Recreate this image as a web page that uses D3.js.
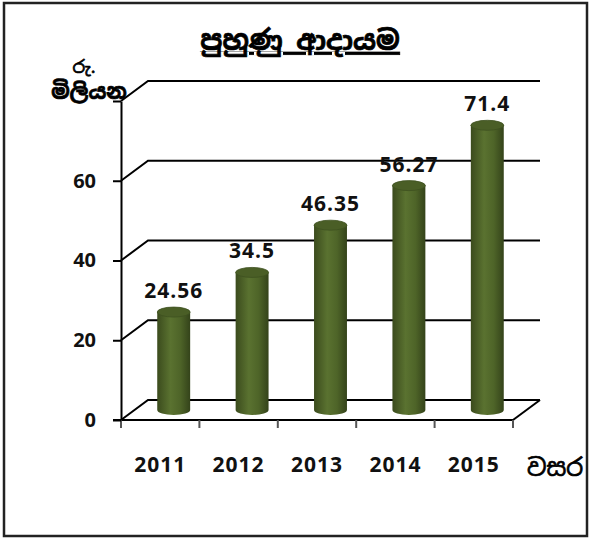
<!DOCTYPE html>
<html>
<head>
<meta charset="utf-8">
<script src="https://cdn.jsdelivr.net/npm/d3@7"></script>
<style>
  body { margin: 0; background: #fff; }
  svg text { font-family: "Open Sans", "Noto Sans", sans-serif; }
  svg text.si { font-family: "Noto Sans Sinhala", "Iskoola Pota", "Noto Sans", sans-serif; stroke: #000; stroke-width: 0.7px; }
</style>
</head>
<body>
<script>
var years = ["2011", "2012", "2013", "2014", "2015"];
var income = [24.56, 34.5, 46.35, 56.27, 71.4];
var labels = ["24.56", "34.5", "46.35", "56.27", "71.4"];
var yTicks = [0, 20, 40, 60, 80];
// the 80 label is hidden behind the axis title in the original
var yTickLabels = ["0", "20", "40", "60", ""];

var W = 595, H = 539;
// 3d depth offset of the back wall
var dx = 27, dy = -20;

var svg = d3.select("body").append("svg")
    .attr("width", W)
    .attr("height", H);

// outer frame
svg.append("rect")
    .attr("x", 4).attr("y", 3)
    .attr("width", 583).attr("height", 533)
    .attr("fill", "#fff")
    .attr("stroke", "#222")
    .attr("stroke-width", 2.5);

var x = d3.scaleBand().domain(years).range([121, 513]);
var y = d3.scaleLinear().domain([0, 80]).range([420, 101]);

var defs = svg.append("defs");
var grad = defs.append("linearGradient").attr("id", "cyl")
    .attr("x1", "0%").attr("x2", "100%").attr("y1", "0%").attr("y2", "0%");
grad.append("stop").attr("offset", "0%").attr("stop-color", "#3b4b1d");
grad.append("stop").attr("offset", "40%").attr("stop-color", "#5a7230");
grad.append("stop").attr("offset", "70%").attr("stop-color", "#4e6428");
grad.append("stop").attr("offset", "100%").attr("stop-color", "#34431a");

// walls: side diagonals + back gridlines
var grid = svg.append("g").attr("stroke", "#000").attr("stroke-width", 2).attr("fill", "none");
yTicks.forEach(function(t) {
  grid.append("path")
      .attr("d", "M" + x.range()[0] + "," + y(t) + "L" + (x.range()[0] + dx) + "," + (y(t) + dy)
        + "L" + (x.range()[1] + dx) + "," + (y(t) + dy));
});
// floor right edge
grid.append("path")
    .attr("d", "M" + x.range()[1] + "," + y(0) + "L" + (x.range()[1] + dx) + "," + (y(0) + dy));

// axes
var xAxis = svg.append("g")
    .attr("transform", "translate(0," + y(0) + ")")
    .call(d3.axisBottom(x).tickSize(0).tickFormat(""));
xAxis.select(".domain").attr("stroke", "#000").attr("stroke-width", 2).attr("d", "M113,0H513");
xAxis.selectAll(".xt").data(d3.range(years.length + 1)).enter().append("line")
    .attr("x1", function(i) { return x.range()[0] + i * x.step(); })
    .attr("x2", function(i) { return x.range()[0] + i * x.step(); })
    .attr("y1", 0).attr("y2", 8)
    .attr("stroke", "#555").attr("stroke-width", 2);

var yAxis = svg.append("g")
    .attr("transform", "translate(121,0)")
    .call(d3.axisLeft(y).tickValues(yTicks).tickSize(8).tickSizeOuter(0)
      .tickFormat(function(d, i) { return yTickLabels[i]; }));
yAxis.select(".domain").attr("stroke", "#000").attr("stroke-width", 2);
yAxis.selectAll("line").attr("stroke", "#000").attr("stroke-width", 2);
yAxis.selectAll("text")
    .attr("x", -25)
    .attr("fill", "#111")
    .style("font-size", "20px").style("font-weight", "bold");

// cylinders, centred half-way into the depth
var bw = x.bandwidth() * 0.42, ry = 5;
var bars = svg.selectAll(".bar").data(income).enter().append("g").attr("class", "bar");
function cx(i) { return x(years[i]) + x.bandwidth() / 2 + dx / 2; }
bars.append("path")
    .attr("fill", "url(#cyl)")
    .attr("d", function(d, i) {
      var l = cx(i) - bw / 2, r = cx(i) + bw / 2;
      var top = y(d) + dy / 2, bot = y(0) + dy / 2;
      return "M" + l + "," + top + "L" + l + "," + bot
        + "A" + bw / 2 + "," + ry + " 0 0 0 " + r + "," + bot
        + "L" + r + "," + top + "Z";
    });
bars.append("ellipse")
    .attr("cx", function(d, i) { return cx(i); })
    .attr("cy", function(d) { return y(d) + dy / 2; })
    .attr("rx", bw / 2).attr("ry", ry)
    .attr("fill", "#4a5e26")
    .attr("stroke", "#3e5020").attr("stroke-width", 0.8);

// value labels
svg.selectAll(".val").data(income).enter().append("text")
    .attr("x", function(d, i) { return cx(i); })
    .attr("y", function(d) { return y(d) + dy / 2 - 14; })
    .attr("text-anchor", "middle")
    .attr("fill", "#111")
    .style("font-size", "21px").style("font-weight", "bold").style("letter-spacing", "1px")
    .text(function(d, i) { return labels[i]; });

// year labels
svg.selectAll(".yr").data(years).enter().append("text")
    .attr("x", function(d) { return x(d) + x.bandwidth() / 2; })
    .attr("y", 472)
    .attr("text-anchor", "middle")
    .attr("fill", "#111")
    .style("font-size", "21px").style("font-weight", "bold").style("letter-spacing", "1px")
    .text(function(d) { return d; });

// titles
svg.append("text").attr("class", "si")
    .attr("x", 300).attr("y", 50)
    .attr("text-anchor", "middle")
    .style("font-size", "27px").style("font-weight", "bold")
    .style("text-decoration", "underline")
    .text("පුහුණු ආදායම");
svg.append("text").attr("class", "si")
    .attr("x", 84).attr("y", 73)
    .attr("text-anchor", "middle")
    .style("font-size", "18px")
    .text("රු.");
svg.append("text").attr("class", "si")
    .attr("x", 89).attr("y", 99)
    .attr("text-anchor", "middle")
    .style("font-size", "21px").style("font-weight", "bold")
    .text("මිලියන");
svg.append("text").attr("class", "si")
    .attr("x", 555).attr("y", 476)
    .attr("text-anchor", "middle")
    .style("font-size", "24px")
    .text("වසර");
</script>
</body>
</html>
